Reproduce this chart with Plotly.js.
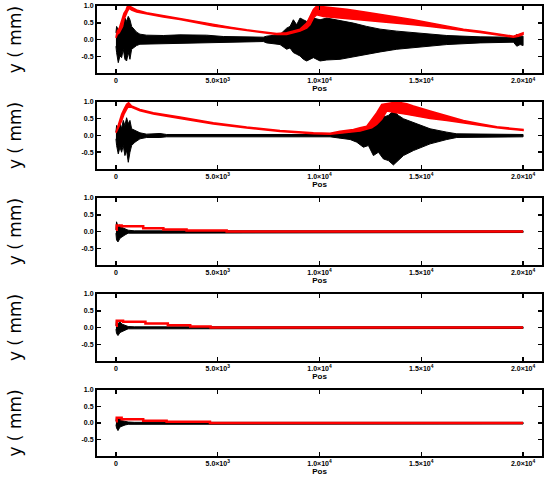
<!DOCTYPE html>
<html>
<head>
<meta charset="utf-8">
<script src="https://cdn.plot.ly/plotly-3.0.1.min.js"></script>
<style>html,body{margin:0;padding:0;background:#fff}#chart{width:551px;height:480px}</style>
</head>
<body>
<div id="chart"></div>
<script>
// ---- data ----
var xTickVals = [0, 5000, 10000, 15000, 20000];
var xTickText = ["0", "5.0\u00d710<sup>3</sup>", "1.0\u00d710<sup>4</sup>", "1.5\u00d710<sup>4</sup>", "2.0\u00d710<sup>4</sup>"];
var yTickVals = [-0.5, 0, 0.5, 1.0];
var yTickText = ["-0.5", "0.0", "0.5", "1.0"];
var xTitle = "Pos";
var yTitle = "y ( mm)";

// Panel 1 : black oscillation envelope
var p1BlackX  = [0, 33, 115, 197, 279, 360, 442, 524, 606, 688, 770, 852, 1016, 1180, 1507, 2327, 3145, 4455, 5274, 7240, 7404, 8060, 8388, 8552, 8716, 8880, 9043, 9207, 9371, 9700, 10027, 10355, 11010, 11666, 12321, 12976, 13795, 14614, 16252, 17890, 19528, 19692, 19856, 20000];
var p1BlackHi = [0.20, 0.39, 0.29, 0.25, 0.49, 0.44, 0.64, 0.54, 0.69, 0.59, 0.39, 0.34, 0.22, 0.16, 0.13, 0.12, 0.14, 0.13, 0.09, 0.07, 0.10, 0.15, 0.34, 0.39, 0.59, 0.44, 0.64, 0.59, 0.54, 0.64, 0.59, 0.64, 0.57, 0.49, 0.39, 0.31, 0.25, 0.20, 0.12, 0.08, 0.07, 0.15, 0.10, 0.10];
var p1BlackLo = [-0.20, -0.39, -0.69, -0.49, -0.54, -0.29, -0.59, -0.64, -0.39, -0.59, -0.29, -0.25, -0.18, -0.14, -0.13, -0.11, -0.12, -0.10, -0.08, -0.06, -0.10, -0.15, -0.29, -0.25, -0.39, -0.44, -0.49, -0.59, -0.64, -0.54, -0.64, -0.61, -0.59, -0.51, -0.44, -0.37, -0.29, -0.25, -0.15, -0.10, -0.08, -0.20, -0.15, -0.18];
// Panel 1 : red curve (upper / lower edge of its band)
var p1RedX  = [0, 66, 164, 230, 328, 393, 491, 557, 655, 770, 1016, 1507, 2327, 3145, 3964, 4783, 5602, 6421, 7240, 7895, 8388, 8716, 9043, 9371, 9535, 9700, 9863, 10191, 10683, 11338, 12157, 12976, 13795, 14614, 15433, 16252, 17071, 17890, 18709, 19528, 19774, 20000];
var p1RedHi = [0.05, 0.25, 0.34, 0.49, 0.64, 0.78, 0.88, 0.98, 1.00, 0.96, 0.88, 0.80, 0.71, 0.64, 0.54, 0.44, 0.37, 0.29, 0.23, 0.18, 0.20, 0.26, 0.31, 0.49, 0.69, 0.90, 1.00, 0.98, 0.96, 0.90, 0.83, 0.74, 0.67, 0.59, 0.49, 0.39, 0.31, 0.25, 0.18, 0.10, 0.15, 0.20];
var p1RedLo = [0.05, 0.15, 0.20, 0.29, 0.39, 0.59, 0.74, 0.83, 0.93, 0.88, 0.82, 0.76, 0.67, 0.60, 0.50, 0.40, 0.33, 0.26, 0.20, 0.15, 0.15, 0.20, 0.25, 0.34, 0.44, 0.64, 0.74, 0.69, 0.67, 0.64, 0.59, 0.54, 0.49, 0.44, 0.39, 0.34, 0.27, 0.21, 0.15, 0.07, 0.10, 0.15];

// Panel 2
var p2BlackX  = [0, 33, 115, 197, 279, 360, 442, 524, 606, 688, 770, 934, 1180, 1507, 2163, 2490, 10519, 11010, 11502, 11830, 12157, 12403, 12648, 12894, 13140, 13386, 13631, 13877, 14123, 14614, 15433, 16252, 16743, 20000];
var p2BlackHi = [0.10, 0.30, 0.15, 0.40, 0.20, 0.45, 0.30, 0.53, 0.35, 0.45, 0.20, 0.15, 0.08, 0.04, 0.06, 0.03, 0.03, 0.06, 0.10, 0.15, 0.20, 0.25, 0.35, 0.40, 0.55, 0.60, 0.73, 0.60, 0.50, 0.38, 0.20, 0.10, 0.05, 0.03];
var p2BlackLo = [-0.10, -0.30, -0.55, -0.35, -0.50, -0.30, -0.60, -0.45, -0.80, -0.50, -0.30, -0.20, -0.10, -0.06, -0.06, -0.04, -0.04, -0.08, -0.12, -0.20, -0.35, -0.30, -0.60, -0.50, -0.70, -0.75, -0.88, -0.75, -0.60, -0.45, -0.25, -0.12, -0.06, -0.04];
var p2RedX  = [0, 66, 164, 279, 393, 524, 622, 770, 1180, 1835, 3145, 4783, 6421, 8060, 9700, 10519, 11010, 11666, 11993, 12321, 12567, 12812, 13058, 13304, 13795, 14287, 14614, 15433, 16252, 17071, 17890, 18709, 20000];
var p2RedHi = [0.08, 0.23, 0.43, 0.63, 0.78, 0.93, 0.98, 0.88, 0.78, 0.68, 0.55, 0.38, 0.25, 0.15, 0.08, 0.07, 0.13, 0.18, 0.23, 0.28, 0.48, 0.68, 0.93, 0.95, 1.00, 0.95, 0.88, 0.73, 0.58, 0.45, 0.35, 0.26, 0.18];
var p2RedLo = [0.08, 0.13, 0.28, 0.43, 0.63, 0.78, 0.88, 0.83, 0.74, 0.64, 0.51, 0.34, 0.22, 0.12, 0.05, 0.04, 0.08, 0.11, 0.13, 0.18, 0.23, 0.33, 0.48, 0.73, 0.68, 0.63, 0.58, 0.51, 0.45, 0.38, 0.31, 0.23, 0.15];

// Panels 3-5 : short transient at the start, red decays in steps
var p3BlackX  = [0, 30, 100, 200, 300, 450, 600, 900, 20000];
var p3BlackHi = [0.05, 0.29, 0.15, 0.20, 0.12, 0.08, 0.04, 0.02, 0.02];
var p3BlackLo = [-0.05, -0.25, -0.31, -0.20, -0.15, -0.10, -0.05, -0.03, -0.03];
var p3RedX = [0, 40, 280, 1340, 2330, 3470, 5440, 20000];
var p3RedY = [0.05, 0.18, 0.16, 0.10, 0.06, 0.03, 0.0, 0.0];

var p4BlackX  = [0, 30, 100, 200, 300, 450, 600, 900, 20000];
var p4BlackHi = [0.05, 0.22, 0.12, 0.16, 0.10, 0.06, 0.03, 0.02, 0.02];
var p4BlackLo = [-0.05, -0.18, -0.24, -0.15, -0.12, -0.08, -0.04, -0.03, -0.03];
var p4RedX = [0, 40, 350, 1450, 2550, 3650, 4650, 20000];
var p4RedY = [0.05, 0.20, 0.17, 0.12, 0.07, 0.03, 0.0, 0.0];

var p5BlackX  = [0, 30, 100, 200, 300, 450, 600, 900, 20000];
var p5BlackHi = [0.05, 0.18, 0.10, 0.12, 0.07, 0.04, 0.03, 0.02, 0.02];
var p5BlackLo = [-0.05, -0.15, -0.23, -0.12, -0.09, -0.06, -0.04, -0.03, -0.03];
var p5RedX = [0, 40, 280, 1340, 2490, 4620, 20000];
var p5RedY = [0.05, 0.16, 0.11, 0.07, 0.04, 0.0, 0.0];

// ---- build traces ----
function band(x, hi, lo, color, ax, lw) {
  return {
    x: x.concat(x.slice().reverse()),
    y: hi.concat(lo.slice().reverse()),
    type: 'scatter', mode: 'lines', fill: 'toself',
    fillcolor: color, line: {color: color, width: lw},
    xaxis: 'x' + ax, yaxis: 'y' + ax, hoverinfo: 'skip', showlegend: false
  };
}
function stepLine(x, y, color, ax) {
  return {
    x: x, y: y, type: 'scatter', mode: 'lines',
    line: {color: color, width: 2.5, shape: 'hv'},
    xaxis: 'x' + ax, yaxis: 'y' + ax, hoverinfo: 'skip', showlegend: false
  };
}
var traces = [
  band(p1BlackX, p1BlackHi, p1BlackLo, 'black', '', 1),
  band(p1RedX, p1RedHi, p1RedLo, 'red', '', 1.5),
  band(p2BlackX, p2BlackHi, p2BlackLo, 'black', '2', 1),
  band(p2RedX, p2RedHi, p2RedLo, 'red', '2', 1.5),
  band(p3BlackX, p3BlackHi, p3BlackLo, 'black', '3', 1),
  stepLine(p3RedX, p3RedY, 'red', '3'),
  band(p4BlackX, p4BlackHi, p4BlackLo, 'black', '4', 1),
  stepLine(p4RedX, p4RedY, 'red', '4'),
  band(p5BlackX, p5BlackHi, p5BlackLo, 'black', '5', 1),
  stepLine(p5RedX, p5RedY, 'red', '5')
];

var tickFont = {family: 'Liberation Sans, Arial, sans-serif', size: 7, color: 'black', weight: 'bold'};
function xAx(anchor) {
  return {
    anchor: anchor, domain: [0, 1], range: [-930, 20930],
    tickmode: 'array', tickvals: xTickVals, ticktext: xTickText,
    ticks: 'inside', ticklen: 4, tickwidth: 1.5, tickcolor: 'black',
    showline: true, linewidth: 2, linecolor: 'black', mirror: 'ticks',
    showgrid: false, zeroline: false, tickfont: tickFont,
    title: {text: xTitle, font: {family: 'Liberation Sans, Arial, sans-serif', size: 8, color: 'black', weight: 'bold'}, standoff: 0}
  };
}
function yAx(anchor, dom) {
  return {
    anchor: anchor, domain: dom, range: [-1, 1],
    tickmode: 'array', tickvals: yTickVals, ticktext: yTickText,
    ticks: 'inside', ticklen: 4, tickwidth: 1.5, tickcolor: 'black',
    showline: true, linewidth: 2, linecolor: 'black', mirror: 'ticks',
    showgrid: false, zeroline: false, tickfont: tickFont,
    title: {text: yTitle, font: {family: 'DejaVu Sans, sans-serif', size: 17, color: 'black'}, standoff: 56}
  };
}
var layout = {
  width: 551, height: 480,
  margin: {l: 97, r: 9, t: 6, b: 24},
  paper_bgcolor: 'white', plot_bgcolor: 'white',
  showlegend: false,
  xaxis: xAx('y'), yaxis: yAx('x', [0.851, 1]),
  xaxis2: xAx('y2'), yaxis2: yAx('x2', [0.6378, 0.7867]),
  xaxis3: xAx('y3'), yaxis3: yAx('x3', [0.4244, 0.5733]),
  xaxis4: xAx('y4'), yaxis4: yAx('x4', [0.2111, 0.36]),
  xaxis5: xAx('y5'), yaxis5: yAx('x5', [0, 0.1467])
};
Plotly.newPlot('chart', traces, layout, {displayModeBar: false, staticPlot: true});
</script>
</body>
</html>
